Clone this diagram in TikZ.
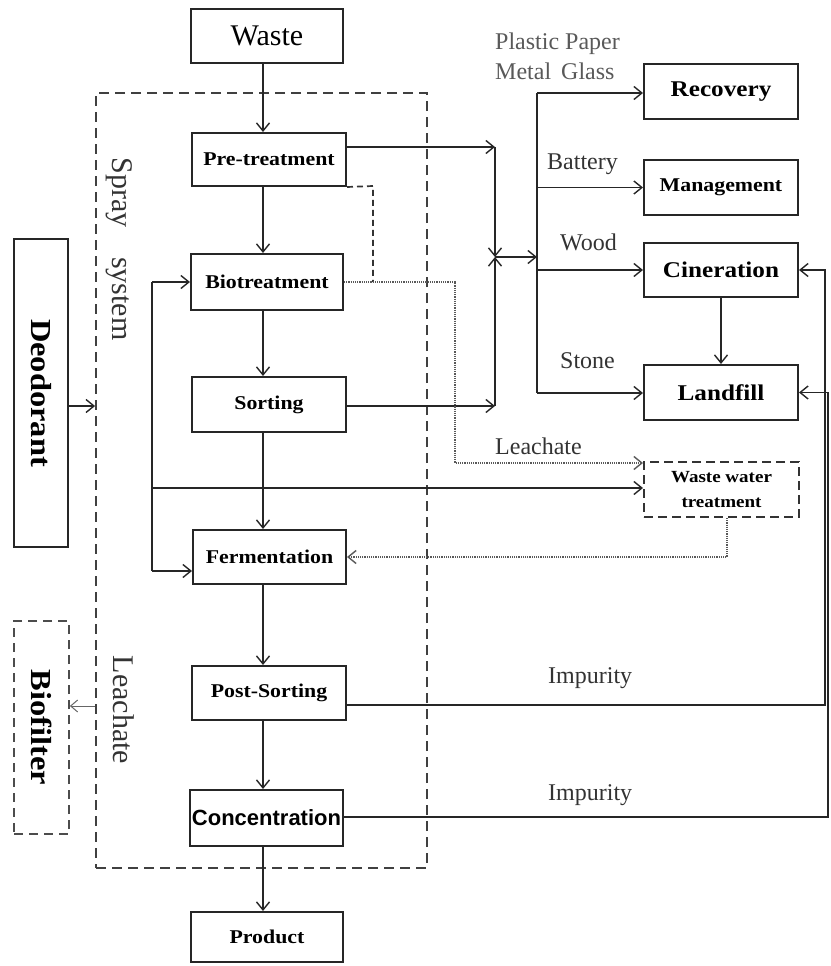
\documentclass[tikz,border=0pt]{standalone}
\usepackage{fontspec}
\usepackage{graphicx}
\setmainfont{Liberation Serif}
\newfontfamily\bx[FakeStretch=1.12]{Liberation Serif Bold}
\newfontfamily\sbx{Liberation Sans Bold}
\usetikzlibrary{arrows.meta}
\begin{document}
\begin{tikzpicture}[x=1pt,y=-1pt,
  box/.style={draw=black!85, line width=2pt, inner sep=0pt, align=center},
  dbox/.style={draw=black!80, line width=2pt, dash pattern=on 9pt off 5pt, inner sep=0pt, align=center},
  bfont/.style={font=\bx\fontsize{19.5}{22}\selectfont},
  big/.style={font=\bx\fontsize{22.5}{25}\selectfont},
  conn/.style={line width=1.6pt, draw=black!85},
  arr/.style={conn, -{Straight Barb[length=8pt,width=13pt,line width=1.4pt]}},
  dotarr/.style={line width=1.5pt, draw=black!65, dash pattern=on 1.2pt off 1pt, -{Straight Barb[length=8pt,width=13pt,line width=1.4pt]}},
  dashconn/.style={line width=1.7pt, draw=black!80, dash pattern=on 6pt off 4pt},
  thinarr/.style={line width=1pt, draw=black!60, -{Straight Barb[length=7pt,width=12pt,line width=1pt]}},
  lbl/.style={anchor=base west, inner sep=0pt, text=black!80, font=\fontsize{24}{26}\selectfont},
  vlbl/.style={rotate=-90, inner sep=0pt, text=black!80, font=\fontsize{30}{32}\selectfont}
]
\useasboundingbox (0,0) rectangle (830,966);

% frame
\node[draw=black!75, line width=1.8pt, dash pattern=on 10pt off 6pt, inner sep=0pt,
      minimum width=331pt, minimum height=775pt] (spray) at (261.5,480.5) {};

% main column
\node[box, minimum width=152pt, minimum height=54pt, font=\fontsize{30}{32}\selectfont] (waste) at (267,36) {Waste};
\node[box, bfont, minimum width=154pt, minimum height=53pt] (pre) at (269,159.5) {Pre-treatment};
\node[box, bfont, minimum width=152pt, minimum height=56pt] (bio) at (267,282) {Biotreatment};
\node[box, bfont, minimum width=154pt, minimum height=55pt] (sort) at (269,404.5) {Sorting};
\node[box, bfont, minimum width=153pt, minimum height=54pt] (ferm) at (269.5,557) {Fermentation};
\node[box, bfont, minimum width=154pt, minimum height=54pt] (post) at (269,693) {Post-Sorting};
\node[box, minimum width=153pt, minimum height=56pt, font=\sbx\fontsize{22}{24}\selectfont] (conc) at (266.5,818) {Concentration};
\node[box, bfont, minimum width=152pt, minimum height=50pt] (prod) at (267,937) {Product};

% right boxes
\node[box, big, minimum width=154pt, minimum height=55pt] (rec) at (721,91.5) {Recovery};
\node[box, bfont, minimum width=154pt, minimum height=55pt] (mgmt) at (721,187.5) {Management};
\node[box, big, minimum width=154pt, minimum height=54pt] (cin) at (721,270) {Cineration};
\node[box, big, minimum width=154pt, minimum height=55pt] (land) at (721,392.5) {Landfill};
\node[dbox, minimum width=155pt, minimum height=55pt, font=\bx\fontsize{17}{25}\selectfont] (wwt) at (721.5,489.5) {Waste water\\treatment};

% left boxes
\node[box, minimum width=54pt, minimum height=308pt, font=\bx\fontsize{29}{31}\selectfont] (deo) at (41,393) {\rotatebox{-90}{Deodorant}};
\node[draw=black!70, line width=1.8pt, dash pattern=on 9pt off 6pt, inner sep=0pt, minimum width=55pt, minimum height=213pt, font=\bx\fontsize{29}{31}\selectfont] (biof) at (41.5,727.5) {\rotatebox{-90}{Biofilter}};

% column arrows
\coordinate (colx) at (263,0);
\draw[arr] (waste.south -| colx) -- (pre.north -| colx);
\draw[arr] (pre.south -| colx) -- (bio.north -| colx);
\draw[arr] (bio.south -| colx) -- (sort.north -| colx);
\draw[arr] (sort.south -| colx) -- (ferm.north -| colx);
\draw[arr] (ferm.south -| colx) -- (post.north -| colx);
\draw[arr] (post.south -| colx) -- (conc.north -| colx);
\draw[arr] (conc.south -| colx) -- (prod.north -| colx);

% junction to the bus
\coordinate (jt) at (495,147);
\coordinate (j) at (495,257);
\coordinate (jb) at (495,406);
\coordinate (busT) at (537,93);
\coordinate (busB) at (537,393);
\draw[arr] (pre.east |- jt) -- (jt);
\draw[arr] (jt) -- (j);
\draw[arr] (sort.east |- jb) -- (jb);
\draw[arr] (jb) -- (j);
\draw[arr] (j) -- (j -| busT);
\draw[conn] (busT) -- (busB);
\draw[arr] (busT) -- (rec.west |- busT);
\draw[arr] (mgmt.west -| busT) -- (mgmt.west);
\draw[arr] (cin.west -| busT) -- (cin.west);
\draw[arr] (busB) -- (land.west |- busB);
\draw[arr] (cin.south) -- (land.north);

% right feedback
\coordinate (rA) at (825,705);
\coordinate (rB) at (828,817);
\draw[arr] (post.east |- rA) -- (rA) -- (rA |- cin.east) -- (cin.east);
\draw[arr] (conc.east |- rB) -- (rB) -- (rB |- land.east) -- (land.east);

% dashed and dotted
\coordinate (dk) at (373,186);
\draw[dashconn] (pre.south east) -- (dk) -- (dk |- bio.east);
\coordinate (lx) at (455,463);
\draw[dotarr] (bio.east) -- (bio.east -| lx) -- (lx) -- (wwt.west |- lx);
\coordinate (wd) at (727,557);
\draw[dotarr] (wwt.south -| wd) -- (wd) -- (ferm.east);

% left loop
\coordinate (lt) at (152,282);
\coordinate (lm) at (152,488);
\coordinate (lb) at (152,571);
\draw[conn] (lt) -- (lb);
\draw[arr] (lt) -- (bio.west |- lt);
\draw[arr] (lb) -- (ferm.west |- lb);
\draw[arr] (lm) -- (wwt.west |- lm);

% left arrows
\coordinate (dy) at (0,406);
\draw[arr] (deo.east |- dy) -- (spray.west |- dy);
\coordinate (by) at (0,706);
\draw[thinarr] (spray.west |- by) -- (biof.east |- by);

% labels
\node[lbl, text=black!65] (l1) at (495,49) {Plastic Paper};
\node[lbl, text=black!65] (l2) at (495,80) {Metal\, Glass};
\node[lbl] (l3) at (547,169) {Battery};
\node[lbl] (l4) at (560,250) {Wood};
\node[lbl] (l5) at (560,368) {Stone};
\node[lbl] (l6) at (495,454) {Leachate};
\node[lbl] (l7) at (548,683) {Impurity};
\node[lbl] (l8) at (548,800) {Impurity};
\node[vlbl] (v1) at (119,249) {Spray\hspace{22pt} system};
\node[vlbl] (v2) at (124,710) {Leachate};
\end{tikzpicture}
\end{document}
